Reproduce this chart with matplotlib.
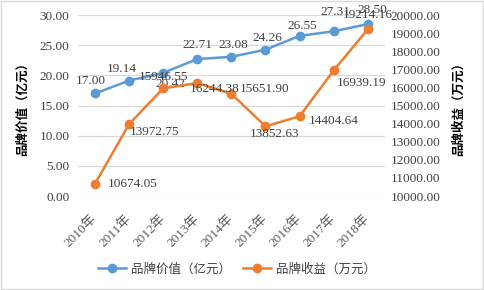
#!/usr/bin/env python
# -*- coding: utf-8 -*-
"""Brand value vs brand revenue, 2010-2018, dual-axis line chart."""

import matplotlib

matplotlib.use("Agg")
import matplotlib.pyplot as plt
from matplotlib.lines import Line2D
from matplotlib.patches import Rectangle

YEARS = ["2010年", "2011年", "2012年", "2013年", "2014年", "2015年", "2016年", "2017年", "2018年"]
BRAND_VALUE = [17.00, 19.14, 20.42, 22.71, 23.08, 24.26, 26.55, 27.31, 28.50]
BRAND_REVENUE = [10674.05, 13972.75, 15946.55, 16244.38, 15651.90,
                 13852.63, 14404.64, 16939.19, 19214.16]

VALUE_LABEL = "品牌价值（亿元）"
REVENUE_LABEL = "品牌收益（万元）"

BLUE = "#5B9BD5"
ORANGE = "#ED7D31"
TEXT = "#404040"
GRID = "#D9D9D9"

# data label offsets in pixels (dx, dy), hand-tuned to mimic the original placement
VALUE_OFFSETS = [(-4, 12), (-7, 12), (7, -11), (0, 14), (2, 12), (2, 12), (3, 10), (2, 19), (5, 14)]
REVENUE_OFFSETS = [(38, 0), (25, -8), (0, 11), (17, -6), (33, 5), (9, -8), (34, -5), (28, -13), (0, 14)]

FONT = ["Liberation Serif", "Noto Sans CJK SC"]
FS = 9.5


def main():
    plt.rcParams["font.family"] = FONT
    plt.rcParams["font.size"] = FS

    fig = plt.figure(figsize=(4.84, 2.90), dpi=100)
    ax = fig.add_axes([0.161, 0.324, 0.634, 0.624])
    ax2 = ax.twinx()

    x = list(range(len(YEARS)))
    ax.plot(x, BRAND_VALUE, color=BLUE, marker="o", markersize=6, linewidth=1.8, zorder=3)
    ax2.plot(x, BRAND_REVENUE, color=ORANGE, marker="o", markersize=6, linewidth=1.8, zorder=3)

    ax.set_ylim(0, 30)
    ax.set_yticks(range(0, 31, 5))
    ax.set_yticklabels([f"{v:.2f}" for v in range(0, 31, 5)])
    ax2.set_ylim(10000, 20000)
    ax2.set_yticks(range(10000, 20001, 1000))
    ax2.set_yticklabels([f"{v:.2f}" for v in range(10000, 20001, 1000)])
    ax.set_xlim(-0.5, len(YEARS) - 0.5)
    ax.set_xticks(x)
    ax.set_xticklabels(YEARS, rotation=45, ha="right", va="center", rotation_mode="anchor")

    for a in (ax, ax2):
        for side in ("top", "right", "left", "bottom"):
            a.spines[side].set_visible(False)
        a.tick_params(length=0, colors=TEXT, labelsize=FS)
    ax.tick_params(axis="x", pad=15, colors="#595959")
    ax.tick_params(axis="y", pad=6)
    ax2.tick_params(axis="y", pad=4)
    ax.grid(axis="y", color=GRID, linewidth=0.9)
    ax.set_axisbelow(True)

    ax.set_ylabel(VALUE_LABEL, fontsize=9, fontweight="bold", color="black", labelpad=8)
    ax2.set_ylabel(REVENUE_LABEL, fontsize=9, fontweight="bold", color="black", rotation=90, labelpad=9)

    for xi, v, (dx, dy) in zip(x, BRAND_VALUE, VALUE_OFFSETS):
        ax.annotate(f"{v:.2f}", (xi, v), xytext=(dx, dy), textcoords="offset pixels",
                    ha="center", va="center", fontsize=FS, color=TEXT, zorder=5)
    for xi, v, (dx, dy) in zip(x, BRAND_REVENUE, REVENUE_OFFSETS):
        ax2.annotate(f"{v:.2f}", (xi, v), xytext=(dx, dy), textcoords="offset pixels",
                     ha="center", va="center", fontsize=FS, color=TEXT, zorder=5)

    handles = [
        Line2D([0], [0], color=BLUE, marker="o", markersize=6, linewidth=1.8),
        Line2D([0], [0], color=ORANGE, marker="o", markersize=6, linewidth=1.8),
    ]
    fig.legend(handles, [VALUE_LABEL, REVENUE_LABEL], loc="center", bbox_to_anchor=(0.49, 0.072),
               ncol=2, frameon=False, fontsize=9, handlelength=2.2, columnspacing=1.0,
               handletextpad=0.4, labelcolor=TEXT)

    fig.patches.append(Rectangle((0.002, 0.003), 0.995, 0.994, transform=fig.transFigure,
                                 fill=False, edgecolor=GRID, linewidth=1.0))

    fig.savefig("out.png", dpi=100)


if __name__ == "__main__":
    main()
